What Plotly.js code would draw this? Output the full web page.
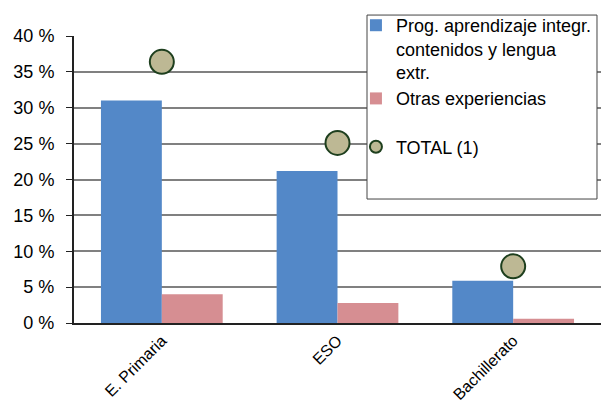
<!DOCTYPE html>
<html><head><meta charset="utf-8">
<script src="https://cdn.plot.ly/plotly-3.0.1.min.js"></script>
<style>html,body{margin:0;padding:0;background:#fff}#chart{width:601px;height:405px}</style>
</head><body><div id="chart"></div>
<script>
var categories = ["E. Primaria", "ESO", "Bachillerato"];
var progValues = [31.0, 21.2, 5.9];
var otrasValues = [4.0, 2.8, 0.6];
var totalValues = [36.4, 25.1, 7.9];
var seriesNames = ["Prog. aprendizaje integr.<br>contenidos y lengua<br>extr.", "Otras experiencias", "TOTAL (1)"];
var yTicks = [0, 5, 10, 15, 20, 25, 30, 35, 40];
var yTickText = ["0 %", "5 %", "10 %", "15 %", "20 %", "25 %", "30 %", "35 %", "40 %"];

var font = "Liberation Sans, Arial, sans-serif";
var data = [
  {type: "bar", x: categories, y: progValues, name: seriesNames[0], marker: {color: "#5388C8"}, legendgroup: "a"},
  {type: "bar", x: categories, y: otrasValues, name: seriesNames[1], marker: {color: "#D68E92"}, legendgroup: "a"},
  {type: "scatter", mode: "markers", x: categories, y: totalValues, name: seriesNames[2], legendgroup: "b",
   marker: {size: 24, color: "#BDB894", line: {color: "#1E3F1E", width: 2}}}
];
var layout = {
  width: 601, height: 405,
  margin: {l: 74, r: 0, t: 36, b: 82},
  paper_bgcolor: "#fff", plot_bgcolor: "#fff",
  font: {family: font, size: 18, color: "#000"},
  showlegend: true,
  barmode: "group", bargap: 0.307, bargroupgap: 0,
  xaxis: {type: "category", showgrid: false, showline: true, linecolor: "#222", linewidth: 2,
    tickangle: -45, tickfont: {size: 16}, ticks: "", zeroline: false},
  yaxis: {range: [0, 40], tickmode: "array", tickvals: yTicks, ticktext: yTickText, showgrid: true, gridcolor: "#808080", gridwidth: 1.5,
    showline: true, linecolor: "#222", linewidth: 2, ticks: "outside", ticklen: 6, tickcolor: "#222",
    ticklabelstandoff: 8, zeroline: false, tickfont: {size: 18}},
  shapes: [{type: "rect", xref: "paper", yref: "paper", x0: 0.556, x1: 0.9924, y0: 0.432, y1: 1.073,
    fillcolor: "#fff", line: {color: "#444", width: 1}, layer: "above"}],
  legend: {x: 0.535, y: 1.101, xanchor: "left", yanchor: "top", bgcolor: "rgba(0,0,0,0)", borderwidth: 0,
    valign: "top", tracegroupgap: 22, itemsizing: "constant", traceorder: "grouped",
    font: {family: font, size: 18}}
};
Plotly.newPlot("chart", data, layout, {displayModeBar: false});
</script></body></html>
